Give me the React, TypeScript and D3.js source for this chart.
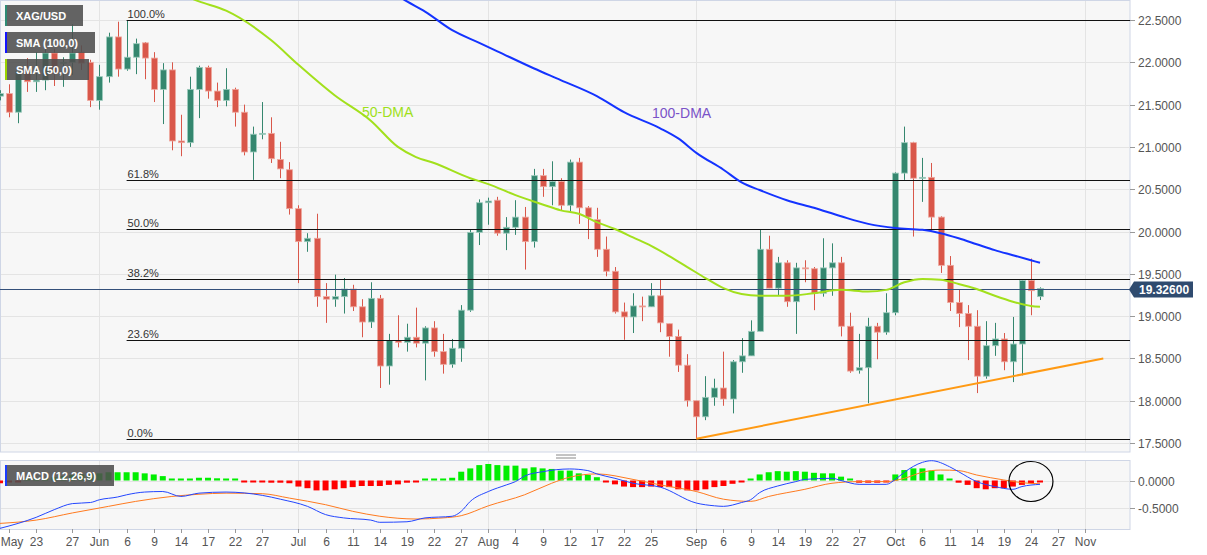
import React, { useEffect, useRef } from 'react';
import * as d3 from 'd3';

// XAG/USD daily candles, one entry per trading day starting 17 May 2022
const opens = [
  21.6, 21.63, 21.41, 21.91, 21.77, 21.79, 22.11, 21.99, 22.0, 22.12,
  22.0, 21.55, 21.83, 22.3, 21.92, 22.06, 22.23, 22.05, 21.68, 21.91,
  21.07, 21.05, 21.68, 21.94, 21.66, 21.55, 21.68, 21.41, 20.94, 21.15,
  21.16, 20.85, 20.73, 20.27, 19.88, 19.92, 19.23, 19.2, 19.23, 19.32,
  19.11, 18.93, 19.21, 18.41, 18.71, 18.69, 18.75, 18.68, 18.86, 18.58,
  18.43, 18.62, 19.07, 19.99, 20.34, 20.37, 19.98, 20.05, 20.17, 19.88,
  20.66, 20.53, 20.59, 20.31, 20.82, 20.28, 20.14, 19.79, 19.53, 19.05,
  18.99, 19.12, 19.11, 19.24, 18.91, 18.76, 18.42, 18.0, 17.81, 18.04,
  18.15, 18.02, 18.46, 18.53, 18.82, 19.79, 19.33, 19.63, 19.17, 19.57,
  19.56, 19.27, 19.57, 19.63, 18.88, 18.36, 18.39, 18.88, 18.81, 19.04,
  20.69, 21.05, 20.63, 20.64, 20.17, 19.6, 19.16, 19.03, 18.88, 18.29,
  18.65, 18.73, 18.46, 18.67, 19.42, 19.23,
];
const highs = [
  21.67, 21.74, 21.93, 22.05, 22.12, 22.18, 22.16, 22.06, 22.45, 22.2,
  22.03, 21.97, 22.35, 22.48, 22.5, 22.28, 22.24, 22.12, 21.99, 22.0,
  21.38, 21.83, 21.96, 21.96, 21.76, 21.93, 21.7, 21.5, 21.24, 21.53,
  21.35, 21.06, 20.82, 20.31, 19.98, 20.21, 19.39, 19.49, 19.45, 19.37,
  19.2, 19.4, 19.25, 18.79, 19.01, 18.91, 19.1, 18.88, 18.94, 18.79,
  18.73, 19.13, 20.02, 20.38, 20.4, 20.41, 20.17, 20.37, 20.29, 20.74,
  20.74, 20.83, 20.63, 20.85, 20.87, 20.3, 20.28, 19.94, 19.58, 19.16,
  19.27, 19.23, 19.39, 19.43, 18.91, 18.84, 18.55, 18.0, 18.29, 18.26,
  18.58, 18.48, 18.74, 18.95, 20.02, 19.95, 19.7, 19.66, 19.63, 19.66,
  19.58, 19.92, 19.86, 19.7, 19.04, 18.79, 18.98, 18.92, 19.27, 20.7,
  21.24, 21.06, 20.87, 20.81, 20.18, 19.71, 19.31, 19.13, 19.07, 18.94,
  18.92, 18.8, 18.99, 19.43, 19.68, 19.34,
];
const lows = [
  21.55, 21.35, 21.28, 21.65, 21.65, 21.67, 21.72, 21.71, 21.85, 21.91,
  21.47, 21.44, 21.76, 21.83, 21.9, 21.86, 21.8, 21.53, 21.27, 20.96,
  20.89, 21.0, 21.34, 21.57, 21.47, 21.48, 21.24, 20.9, 20.61, 21.09,
  20.81, 20.63, 20.2, 19.39, 19.76, 19.11, 18.92, 19.11, 19.03, 19.06,
  18.75, 18.86, 18.15, 18.19, 18.63, 18.58, 18.63, 18.24, 18.52, 18.32,
  18.39, 18.46, 19.05, 19.84, 20.08, 19.95, 19.78, 19.96, 19.55, 19.81,
  20.41, 20.31, 20.25, 20.23, 20.09, 19.91, 19.7, 19.47, 19.03, 18.72,
  18.8, 18.94, 19.11, 18.81, 18.52, 18.34, 17.93, 17.55, 17.77, 17.94,
  17.94, 17.85, 18.33, 18.53, 18.82, 19.33, 19.24, 19.11, 18.79, 19.4,
  19.07, 19.23, 19.24, 18.76, 18.33, 18.32, 17.97, 18.49, 18.78, 19.01,
  20.61, 19.94, 20.35, 20.01, 19.51, 19.06, 18.87, 18.48, 18.09, 18.26,
  18.53, 18.36, 18.22, 18.3, 19.01, 19.19,
];
const closes = [
  21.63, 21.41, 21.89, 21.77, 21.79, 22.11, 21.87, 22.0, 22.11, 21.99,
  21.55, 21.83, 22.3, 21.92, 22.06, 22.22, 22.05, 21.68, 21.91, 21.07,
  21.05, 21.68, 21.94, 21.66, 21.55, 21.68, 21.41, 20.94, 21.15, 21.16,
  20.86, 20.74, 20.27, 19.88, 19.92, 19.23, 19.2, 19.23, 19.32, 19.11,
  18.93, 19.21, 18.41, 18.71, 18.69, 18.75, 18.68, 18.86, 18.58, 18.43,
  18.62, 19.07, 19.99, 20.34, 20.36, 19.98, 20.05, 20.17, 19.88, 20.66,
  20.53, 20.59, 20.31, 20.82, 20.28, 20.17, 19.79, 19.53, 19.05, 18.99,
  19.12, 19.11, 19.24, 18.92, 18.76, 18.42, 18.0, 17.81, 18.04, 18.15,
  18.02, 18.46, 18.53, 18.82, 19.79, 19.33, 19.63, 19.17, 19.57, 19.56,
  19.27, 19.57, 19.63, 18.88, 18.35, 18.39, 18.88, 18.81, 19.04, 20.69,
  21.05, 20.63, 20.64, 20.17, 19.6, 19.16, 19.03, 18.88, 18.29, 18.65,
  18.73, 18.46, 18.67, 19.42, 19.3, 19.326,
];

// moving averages (trading-day index, price)
const sma50Days = [18, 22, 25, 30, 33, 37, 41, 44, 46, 48, 52, 54, 57, 60, 62, 64, 66, 68, 70, 72, 74, 76, 78, 80, 82, 84, 87, 90, 93, 96, 98, 100, 102, 104, 106, 108, 110, 112, 114, 115];
const sma50Vals = [22.9, 22.72, 22.61, 22.26, 21.97, 21.61, 21.31, 21.0, 20.88, 20.81, 20.63, 20.56, 20.43, 20.32, 20.25, 20.21, 20.11, 20.03, 19.93, 19.83, 19.71, 19.58, 19.45, 19.33, 19.26, 19.24, 19.24, 19.27, 19.31, 19.29, 19.31, 19.4, 19.44, 19.43, 19.38, 19.32, 19.24, 19.17, 19.12, 19.11];
const sma100Days = [43, 45, 47, 50, 53, 55, 59, 62, 66, 69, 73, 75, 77, 80, 82, 84, 87, 90, 93, 96, 99, 102, 104, 106, 108, 110, 112, 114, 115];
const sma100Vals = [22.85, 22.72, 22.6, 22.38, 22.23, 22.13, 21.93, 21.79, 21.6, 21.41, 21.22, 21.1, 20.93, 20.73, 20.58, 20.49, 20.37, 20.28, 20.18, 20.09, 20.04, 20.02, 19.98, 19.92, 19.85, 19.78, 19.72, 19.66, 19.63];

// support line from the 1 Sep low
const trendDays = [77, 122];
const trendVals = [17.55, 18.5];

// Fibonacci retracement of the 22.50 -> 17.55 fall
const fibHigh = 22.5;
const fibLow = 17.55;
const fibStartDay = 14;
const fibRatios = [1, 0.618, 0.5, 0.382, 0.236, 0];
const fibLabels = ['100.0%', '61.8%', '50.0%', '38.2%', '23.6%', '0.0%'];

const lastPrice = 19.326;
const priceTicks = [22.5, 22, 21.5, 21, 20.5, 20, 19.5, 19, 18.5, 18, 17.5];

// MACD (12,26,9)
const macdHist = [
  -0.05, -0.03, -0.02, 0.0, 0.02, 0.04, 0.06, 0.08, 0.1, 0.11,
  0.12, 0.13, 0.15, 0.15, 0.15, 0.15, 0.13, 0.11, 0.08, 0.02,
  0.01, 0.01, 0.05, 0.05, 0.04, 0.03, 0.02, -0.01, -0.01, -0.02,
  -0.04, -0.04, -0.05, -0.11, -0.14, -0.18, -0.18, -0.16, -0.14, -0.12,
  -0.1, -0.1, -0.1, -0.08, -0.07, -0.04, -0.02, 0.01, 0.02, 0.02,
  0.05, 0.16, 0.22, 0.28, 0.3, 0.28, 0.27, 0.27, 0.22, 0.24,
  0.22, 0.21, 0.18, 0.18, 0.13, 0.1, 0.06, -0.03, -0.07, -0.11,
  -0.12, -0.12, -0.11, -0.12, -0.12, -0.16, -0.18, -0.18, -0.16, -0.12,
  -0.1, -0.06, -0.02, 0.01, 0.11, 0.15, 0.17, 0.16, 0.17, 0.16,
  0.14, 0.13, 0.13, 0.07, 0.01, -0.04, -0.04, -0.04, -0.02, 0.11,
  0.19, 0.22, 0.22, 0.18, 0.11, 0.02, -0.04, -0.08, -0.14, -0.16,
  -0.14, -0.14, -0.11, -0.08, -0.05, -0.02,
];
const macdDays = [0, 2, 4, 6, 8, 10, 11, 13, 14, 16, 18, 20, 22, 25, 29, 31, 34, 36, 38, 41, 42, 45, 47, 50, 51, 52, 54, 56, 57, 58, 60, 63, 65, 66, 68, 70, 73, 77, 79, 80, 82, 83, 84, 86, 88, 89, 92, 93, 95, 98, 99, 100, 102, 103, 105, 106, 108, 110, 112, 113, 115];
const macdVals = [-0.87, -0.78, -0.67, -0.53, -0.42, -0.4, -0.35, -0.3, -0.26, -0.21, -0.2, -0.29, -0.23, -0.21, -0.27, -0.34, -0.47, -0.62, -0.68, -0.72, -0.76, -0.75, -0.68, -0.65, -0.56, -0.38, -0.2, -0.08, -0.02, 0.08, 0.16, 0.21, 0.18, 0.12, 0.04, -0.05, -0.12, -0.41, -0.46, -0.47, -0.4, -0.35, -0.22, -0.1, -0.02, 0.02, 0.04, 0.0, -0.07, -0.07, 0.02, 0.15, 0.33, 0.36, 0.25, 0.16, -0.02, -0.11, -0.16, -0.11, -0.07];
const signalDays = [0, 4, 8, 12, 15, 19, 22, 25, 29, 32, 36, 39, 42, 46, 49, 51, 54, 58, 61, 63, 66, 70, 73, 77, 80, 83, 85, 89, 92, 95, 98, 100, 102, 104, 106, 108, 111, 113, 115];
const signalVals = [-0.78, -0.72, -0.59, -0.47, -0.38, -0.29, -0.25, -0.23, -0.24, -0.32, -0.44, -0.56, -0.65, -0.7, -0.68, -0.64, -0.46, -0.26, -0.05, 0.06, 0.12, 0.02, -0.08, -0.2, -0.34, -0.38, -0.29, -0.16, -0.05, -0.02, -0.02, 0.04, 0.15, 0.19, 0.18, 0.1, 0.01, -0.04, -0.06];
const macdTicks = [0, -0.5];

// date axis
const xTickDates = [
  '2022-05-18', '2022-05-23', '2022-05-27', '2022-06-01', '2022-06-06', '2022-06-09', '2022-06-14', '2022-06-17',
  '2022-06-22', '2022-06-27', '2022-07-01', '2022-07-06', '2022-07-11', '2022-07-14', '2022-07-19', '2022-07-22',
  '2022-07-27', '2022-08-01', '2022-08-04', '2022-08-09', '2022-08-12', '2022-08-17', '2022-08-22', '2022-08-25',
  '2022-09-01', '2022-09-06', '2022-09-09', '2022-09-14', '2022-09-19', '2022-09-22', '2022-09-27', '2022-10-03',
  '2022-10-06', '2022-10-11', '2022-10-14', '2022-10-19', '2022-10-24', '2022-10-27', '2022-11-01',
];
const xTickLabels = [
  'May', '23', '27', 'Jun', '6', '9', '14', '17', '22', '27', 'Jul', '6', '11', '14', '19', '22', '27',
  'Aug', '4', '9', '12', '17', '22', '25', 'Sep', '6', '9', '14', '19', '22', '27', 'Oct', '6', '11', '14',
  '19', '24', '27', 'Nov',
];

const W = 1207;
const H = 555;

const App: React.FC = () => {
  const svgRef = useRef<SVGSVGElement | null>(null);

  useEffect(() => {
    if (!svgRef.current) return;
    const svg = d3.select(svgRef.current);
    svg.selectAll('*').remove();

    const font = 'Arial, "Liberation Sans", sans-serif';
    const plotRight = 1130;
    const mainBottom = 452;
    const macdTop = 460;
    const macdBottom = 529;
    const up = '#35876f';
    const down = '#d9574a';

    const days = d3
      .timeDay.range(new Date(2022, 4, 17), new Date(2022, 10, 12))
      .filter((d) => d.getDay() !== 0 && d.getDay() !== 6);
    const fmt = d3.timeFormat('%Y-%m-%d');
    const dayIndex = new Map(days.map((d, i) => [fmt(d), i] as [string, number]));

    const x = d3.scaleLinear().domain([0, 115]).range([0, 1040]);
    const y = d3.scaleLinear().domain([17.5, 22.5]).range([443, 20]);
    const ym = d3.scaleLinear().domain([-0.5, 0]).range([508, 480.5]);

    const defs = svg.append('defs');
    defs.append('clipPath').attr('id', 'clip-main')
      .append('rect').attr('x', 0).attr('y', 0).attr('width', plotRight).attr('height', mainBottom);
    defs.append('clipPath').attr('id', 'clip-macd')
      .append('rect').attr('x', 0).attr('y', macdTop).attr('width', plotRight).attr('height', macdBottom - macdTop);

    svg.append('rect').attr('width', W).attr('height', H).attr('fill', '#fff');
    svg.append('rect')
      .attr('x', 0.5).attr('y', 0.5).attr('width', plotRight - 0.5).attr('height', mainBottom - 0.5)
      .attr('fill', '#f7f7f7').attr('stroke', '#cfd6e6');
    svg.append('rect')
      .attr('x', 0.5).attr('y', macdTop + 0.5).attr('width', plotRight - 0.5).attr('height', macdBottom - macdTop)
      .attr('fill', '#f7f7f7').attr('stroke', '#cfd6e6');

    // grid
    const grid = svg.append('g').attr('stroke', '#e4e4e4').attr('stroke-width', 1);
    priceTicks.forEach((t) => {
      const yy = Math.round(y(t)) + 0.5;
      grid.append('line').attr('x1', 1).attr('x2', plotRight).attr('y1', yy).attr('y2', yy);
    });
    macdTicks.forEach((t) => {
      const yy = Math.round(ym(t)) + 0.5;
      grid.append('line').attr('x1', 1).attr('x2', plotRight).attr('y1', yy).attr('y2', yy);
    });
    xTickDates.forEach((d, k) => {
      if (k === 0 || /^\d+$/.test(xTickLabels[k])) return;
      const xx = Math.round(x(dayIndex.get(d) ?? 0)) + 0.5;
      grid.append('line').attr('x1', xx).attr('x2', xx).attr('y1', 1).attr('y2', mainBottom);
      grid.append('line').attr('x1', xx).attr('x2', xx).attr('y1', macdTop + 1).attr('y2', macdBottom);
    });

    // candles
    const main = svg.append('g').attr('clip-path', 'url(#clip-main)');
    const idx = d3.range(opens.length);
    const cg = main.append('g');
    idx.forEach((i) => {
      const isUp = closes[i] >= opens[i];
      const col = isUp ? up : down;
      const cx = Math.round(x(i)) + 0.5;
      cg.append('line')
        .attr('x1', cx).attr('x2', cx)
        .attr('y1', y(highs[i])).attr('y2', y(lows[i]))
        .attr('stroke', col).attr('stroke-width', 1);
      const top = y(Math.max(opens[i], closes[i]));
      const bot = y(Math.min(opens[i], closes[i]));
      cg.append('rect')
        .attr('x', cx - 3).attr('y', top)
        .attr('width', 6).attr('height', Math.max(1, bot - top))
        .attr('fill', col)
        .attr('stroke', isUp ? '#9dcbbd' : '#eea89f')
        .attr('stroke-width', 0.8);
    });

    // Fibonacci levels
    const fibX = x(fibStartDay);
    fibRatios.forEach((r, k) => {
      const v = fibLow + r * (fibHigh - fibLow);
      const yy = Math.round(y(v)) + 0.5;
      main.append('line')
        .attr('x1', fibX).attr('x2', plotRight).attr('y1', yy).attr('y2', yy)
        .attr('stroke', '#111').attr('stroke-width', 1.2);
      svg.append('text')
        .attr('x', fibX + 1).attr('y', yy - 3)
        .attr('font-family', font).attr('font-size', 11).attr('fill', '#333')
        .text(fibLabels[k]);
    });

    // last price line
    const lpY = Math.round(y(lastPrice)) + 0.5;
    main.append('line')
      .attr('x1', 0).attr('x2', plotRight).attr('y1', lpY).attr('y2', lpY)
      .attr('stroke', '#34507a').attr('stroke-width', 1);

    // moving averages
    const line = d3.line<[number, number]>()
      .x((d) => x(d[0]))
      .y((d) => y(d[1]))
      .curve(d3.curveMonotoneX);
    main.append('path')
      .attr('d', line(sma50Days.map((d, i) => [d, sma50Vals[i]] as [number, number])))
      .attr('fill', 'none').attr('stroke', '#a2e01c').attr('stroke-width', 2);
    main.append('path')
      .attr('d', line(sma100Days.map((d, i) => [d, sma100Vals[i]] as [number, number])))
      .attr('fill', 'none').attr('stroke', '#1433ff').attr('stroke-width', 2);

    // support line
    main.append('line')
      .attr('x1', x(trendDays[0])).attr('y1', y(trendVals[0]))
      .attr('x2', x(trendDays[1])).attr('y2', y(trendVals[1]))
      .attr('stroke', '#ff9a14').attr('stroke-width', 2);

    // annotations
    svg.append('text')
      .attr('x', 362).attr('y', 117)
      .attr('font-family', font).attr('font-size', 14).attr('fill', '#9ee01a')
      .text('50-DMA');
    svg.append('text')
      .attr('x', 652).attr('y', 118)
      .attr('font-family', font).attr('font-size', 14).attr('fill', '#7a52c8')
      .text('100-DMA');

    // legend boxes
    const legend = (bx: number, by: number, bw: number, bar: string, label: string) => {
      svg.append('rect')
        .attr('x', bx).attr('y', by).attr('width', bw).attr('height', 21)
        .attr('fill', '#4e4e4e').attr('fill-opacity', 0.88);
      svg.append('rect')
        .attr('x', bx).attr('y', by).attr('width', 2).attr('height', 21)
        .attr('fill', bar);
      svg.append('text')
        .attr('x', bx + 11).attr('y', by + 15)
        .attr('font-family', font).attr('font-size', 11).attr('font-weight', 700)
        .attr('fill', '#fff')
        .text(label);
    };
    legend(5, 5, 78, '#2e8b74', 'XAG/USD');
    legend(5, 32, 90, '#1414ff', 'SMA (100,0)');
    legend(5, 59, 84, '#9ad400', 'SMA (50,0)');

    // price axis
    const axis = svg.append('g').attr('font-family', font).attr('font-size', 12);
    priceTicks.forEach((t) => {
      const yy = Math.round(y(t)) + 0.5;
      axis.append('line').attr('x1', plotRight).attr('x2', plotRight + 5).attr('y1', yy).attr('y2', yy).attr('stroke', '#999');
      axis.append('text').attr('x', 1138).attr('y', yy + 4).attr('fill', '#555').text(t.toFixed(4));
    });
    macdTicks.forEach((t) => {
      const yy = Math.round(ym(t)) + 0.5;
      axis.append('line').attr('x1', plotRight).attr('x2', plotRight + 5).attr('y1', yy).attr('y2', yy).attr('stroke', '#999');
      axis.append('text').attr('x', 1138).attr('y', yy + 4).attr('fill', '#555').text(t.toFixed(4));
    });

    // last price tag
    svg.append('path')
      .attr('d', `M${plotRight - 1},${lpY} L${plotRight + 4},${lpY - 8} L${plotRight + 63},${lpY - 8} L${plotRight + 63},${lpY + 8} L${plotRight + 4},${lpY + 8} Z`)
      .attr('fill', '#2f4b6f');
    svg.append('text')
      .attr('x', 1139).attr('y', lpY + 4.5)
      .attr('font-family', font).attr('font-size', 12).attr('font-weight', 700)
      .attr('fill', '#fff')
      .text(lastPrice.toFixed(5));

    // separator handle
    [455, 458].forEach((yy) => {
      svg.append('line').attr('x1', 556).attr('x2', 576).attr('y1', yy).attr('y2', yy).attr('stroke', '#888');
    });

    // MACD panel
    const mg = svg.append('g').attr('clip-path', 'url(#clip-macd)');
    const zero = ym(0);
    idx.forEach((i) => {
      const v = macdHist[i];
      const h = Math.max(2, Math.abs(ym(v) - zero));
      mg.append('rect')
        .attr('x', x(i) - 3).attr('y', v >= 0 ? zero - h : zero)
        .attr('width', 6).attr('height', h)
        .attr('fill', v >= 0 ? '#00ee00' : '#ff0000');
    });
    const mline = d3.line<[number, number]>()
      .x((d) => x(d[0]))
      .y((d) => ym(d[1]))
      .curve(d3.curveMonotoneX);
    mg.append('path')
      .attr('d', mline(signalDays.map((d, i) => [d, signalVals[i]] as [number, number])))
      .attr('fill', 'none').attr('stroke', '#ff7a1f').attr('stroke-width', 1);
    mg.append('path')
      .attr('d', mline(macdDays.map((d, i) => [d, macdVals[i]] as [number, number])))
      .attr('fill', 'none').attr('stroke', '#2346ff').attr('stroke-width', 1);

    svg.append('ellipse')
      .attr('cx', x(114)).attr('cy', zero + 1).attr('rx', 22).attr('ry', 20)
      .attr('fill', 'none').attr('stroke', '#000').attr('stroke-width', 1.2);

    svg.append('rect').attr('x', 5).attr('y', 465).attr('width', 109).attr('height', 21)
      .attr('fill', '#4e4e4e').attr('fill-opacity', 0.88);
    svg.append('rect').attr('x', 5).attr('y', 465).attr('width', 2).attr('height', 21).attr('fill', '#1a3cff');
    svg.append('text').attr('x', 16).attr('y', 480)
      .attr('font-family', font).attr('font-size', 11).attr('font-weight', 700).attr('fill', '#fff')
      .text('MACD (12,26,9)');

    // date axis
    xTickDates.forEach((d, k) => {
      const xx = Math.round(x(dayIndex.get(d) ?? 0)) + 0.5;
      axis.append('line').attr('x1', xx).attr('x2', xx).attr('y1', macdBottom).attr('y2', macdBottom + 4).attr('stroke', '#999');
      axis.append('text')
        .attr('x', Math.max(xx, 12)).attr('y', 546)
        .attr('text-anchor', 'middle').attr('fill', '#555')
        .text(xTickLabels[k]);
    });
  }, []);

  return (
    <svg
      ref={svgRef}
      width={W}
      height={H}
      style={{ position: 'absolute', left: 0, top: 0, display: 'block' }}
    />
  );
};

export default App;
